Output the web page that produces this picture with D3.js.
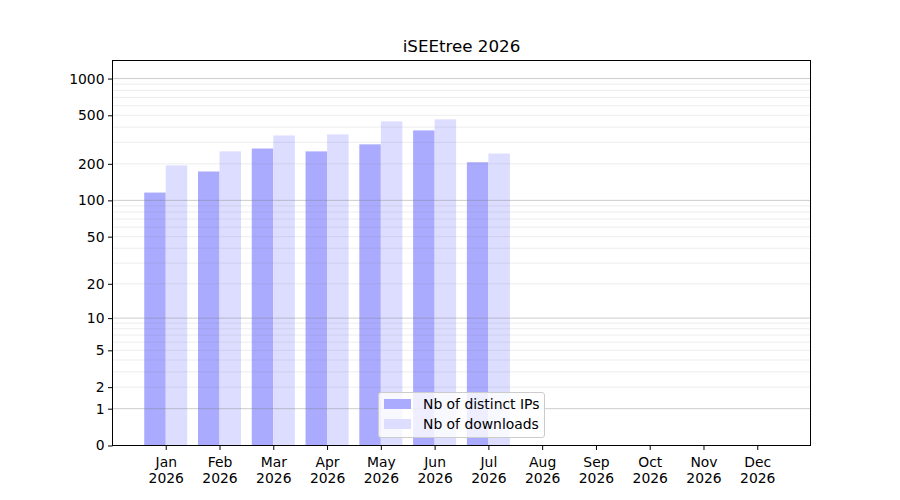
<!DOCTYPE html>
<html>
<head>
<meta charset="utf-8">
<script src="https://cdn.jsdelivr.net/npm/d3@7"></script>
<style>
  body { margin: 0; background: #fff; }
  svg { font-family: "DejaVu Sans", sans-serif; }
</style>
</head>
<body>
<svg width="900" height="500"></svg>
<script>
// chart data
const months = ["Jan", "Feb", "Mar", "Apr", "May", "Jun", "Jul", "Aug", "Sep", "Oct", "Nov", "Dec"];
const year = "2026";
const ips = [116, 173, 267, 253, 289, 376, 206, 0, 0, 0, 0, 0];
const downloads = [194, 253, 342, 349, 446, 463, 243, 0, 0, 0, 0, 0];
const yTicks = [0, 1, 2, 5, 10, 20, 50, 100, 200, 500, 1000];
const majorGrid = [1, 10, 100, 1000];
const minorGrid = [2, 3, 4, 5, 6, 7, 8, 9, 20, 30, 40, 50, 60, 70, 80, 90, 200, 300, 400, 500, 600, 700, 800, 900];

const svg = d3.select("svg");
const plotL = 112.5, plotR = 810.5, plotT = 60.5, plotB = 445.5;
const fs = 13.9;

const x = d3.scaleLinear().domain([-0.99, 11.99]).range([plotL, plotR]);
const y = d3.scaleSymlog().constant(1).domain([0, Math.pow(10, 3.148) - 1]).range([plotB, plotT]);

const barW = 0.4;

// bars
svg.append("g").selectAll("rect")
    .data(ips)
    .join("rect")
    .attr("x", (d, i) => x(i - barW))
    .attr("width", x(barW) - x(0))
    .attr("y", d => y(d))
    .attr("height", d => plotB - y(d))
    .attr("fill", "#aaaaff");

svg.append("g").selectAll("rect")
    .data(downloads)
    .join("rect")
    .attr("x", (d, i) => x(i))
    .attr("width", x(barW) - x(0))
    .attr("y", d => y(d))
    .attr("height", d => plotB - y(d))
    .attr("fill", "#ddddff");

// grid on top of bars
svg.append("g").selectAll("line")
    .data(minorGrid)
    .join("line")
    .attr("x1", plotL).attr("x2", plotR)
    .attr("y1", d => y(d)).attr("y2", d => y(d))
    .attr("stroke", "#808080").attr("stroke-opacity", 0.14);

svg.append("g").selectAll("line")
    .data(majorGrid)
    .join("line")
    .attr("x1", plotL).attr("x2", plotR)
    .attr("y1", d => y(d)).attr("y2", d => y(d))
    .attr("stroke", "#808080").attr("stroke-opacity", 0.4);

// axes
const yAxis = d3.axisLeft(y).tickValues(yTicks).tickFormat(d3.format("d")).tickSize(4.5).tickPadding(3.5);
const gy = svg.append("g").attr("transform", `translate(${plotL},0)`).call(yAxis);
gy.select(".domain").remove();
gy.attr("font-size", fs).attr("font-family", "DejaVu Sans");
gy.selectAll("text").attr("fill", "#000");
gy.selectAll("line").attr("stroke", "#000");

const xAxis = d3.axisBottom(x).tickValues(d3.range(months.length)).tickFormat("").tickSize(4.5);
const gx = svg.append("g").attr("transform", `translate(0,${plotB})`).call(xAxis);
gx.select(".domain").remove();
gx.attr("font-size", fs).attr("font-family", "DejaVu Sans");
gx.selectAll("line").attr("stroke", "#000");
gx.selectAll(".tick").each(function (d) {
    const t = d3.select(this).append("text")
        .attr("text-anchor", "middle")
        .attr("fill", "#000");
    t.append("tspan").attr("x", 0).attr("y", 21).text(months[d]);
    t.append("tspan").attr("x", 0).attr("y", 37).text(year);
});

// frame
svg.append("rect")
    .attr("x", plotL).attr("y", plotT)
    .attr("width", plotR - plotL).attr("height", plotB - plotT)
    .attr("fill", "none").attr("stroke", "#000").attr("stroke-width", 1);

// title
svg.append("text")
    .attr("x", (plotL + plotR) / 2).attr("y", 52)
    .attr("text-anchor", "middle")
    .attr("font-size", 16.7)
    .text("iSEEtree 2026");

// legend
const legend = svg.append("g").attr("transform", "translate(378.5,392.5)");
legend.append("rect")
    .attr("width", 166).attr("height", 45).attr("rx", 2.5)
    .attr("fill", "#fff").attr("fill-opacity", 0.8)
    .attr("stroke", "#cccccc");
const items = [["Nb of distinct IPs", "#aaaaff"], ["Nb of downloads", "#ddddff"]];
items.forEach(([label, color], i) => {
    legend.append("rect")
        .attr("x", 5.5).attr("y", 6.5 + i * 20)
        .attr("width", 27).attr("height", 10)
        .attr("fill", color);
    legend.append("text")
        .attr("x", 44.5).attr("y", 16.5 + i * 20)
        .attr("font-size", fs)
        .text(label);
});
</script>
</body>
</html>
